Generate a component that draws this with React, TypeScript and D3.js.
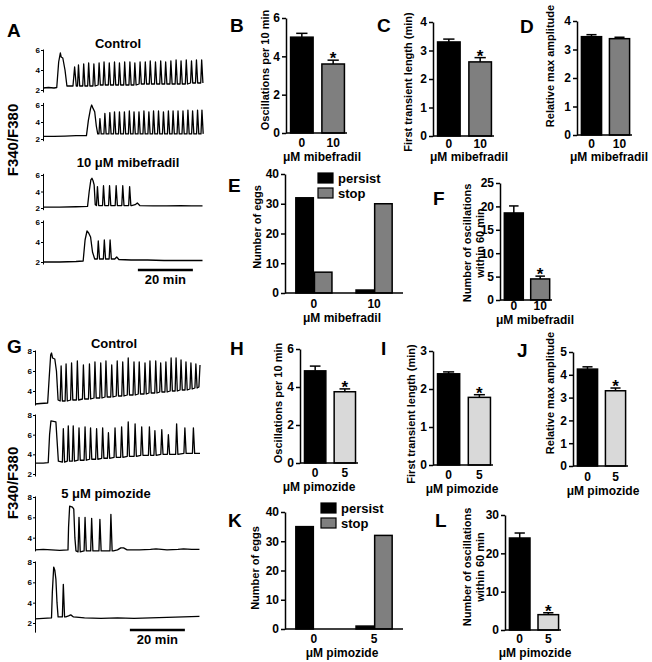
import React, { useEffect, useRef } from 'react';
import * as d3 from 'd3';

const FONT = '"Liberation Sans", Arial, Helvetica, sans-serif';
const DARK = '#000000';
const MIB_GRAY = '#7f7f7f';
const PIM_GRAY = '#d9d9d9';

type Pt = [number, number];

// ---------- Ca2+ traces: time (min) vs F340/F380 ----------
// lead/tail = hand-read key points, spikes = time, peak and baseline between spikes

// A, control egg 1
const a1Lead: Pt[] = [[0, 2.2], [2, 2.25], [4, 2.2], [5.0, 2.25], [5.7, 4.8], [6.3, 5.7], [6.6, 5.3], [7.2, 5.2], [8.0, 4.0], [8.7, 2.4], [10.9, 2.4], [11.5, 4.3], [12.1, 2.4]];
const a1SpikeT = [12.9, 14.8, 16.6, 18.5, 20.4, 22.2, 24.1, 26.0, 27.8, 29.7, 31.6, 33.4, 35.3, 37.2, 39.0, 40.9, 42.8, 44.6, 46.5, 48.4, 50.2, 52.1, 54.0, 55.8, 57.7];
const a1SpikePeak = [4.5, 4.6, 4.7, 4.6, 4.7, 4.8, 4.7, 4.8, 4.7, 4.8, 4.8, 4.7, 4.8, 4.8, 4.9, 4.8, 4.9, 4.8, 4.9, 5.0, 4.9, 5.0, 4.9, 5.0, 5.0];
const a1SpikeBase = [2.4, 2.4, 2.4, 2.4, 2.5, 2.5, 2.5, 2.5, 2.5, 2.5, 2.5, 2.5, 2.6, 2.6, 2.6, 2.6, 2.6, 2.6, 2.6, 2.6, 2.6, 2.6, 2.7, 2.7, 2.7];
const a1Tail: Pt[] = [];

// A, control egg 2
const a2Lead: Pt[] = [[0, 2.3], [4, 2.3], [8, 2.35], [12, 2.4], [15.8, 2.4], [16.5, 4.2], [17.3, 5.6], [17.7, 6.0], [18.2, 5.6], [18.8, 5.2], [19.4, 3.5], [19.9, 2.6]];
const a2SpikeT = [20.7, 22.5, 24.3, 26.0, 27.8, 29.6, 31.4, 33.1, 34.9, 36.7, 38.5, 40.2, 42.0, 43.8, 45.6, 47.3, 49.1, 50.9, 52.7, 54.4, 56.2, 57.8];
const a2SpikePeak = [4.4, 5.0, 5.1, 5.2, 5.2, 5.2, 5.3, 5.2, 5.2, 5.3, 5.2, 5.3, 5.3, 5.2, 5.3, 5.3, 5.3, 5.3, 5.4, 5.3, 5.4, 5.4];
const a2SpikeBase = [2.6, 2.6, 2.6, 2.6, 2.6, 2.6, 2.6, 2.6, 2.6, 2.6, 2.6, 2.6, 2.6, 2.6, 2.6, 2.6, 2.6, 2.6, 2.6, 2.6, 2.6, 2.6];
const a2Tail: Pt[] = [];

// A, mibefradil egg 1
const a3Lead: Pt[] = [[0, 2.1], [6, 2.1], [12, 2.15], [16.2, 2.2], [16.8, 4.0], [17.4, 5.4], [17.8, 5.6], [18.2, 5.3], [18.6, 4.8], [19.0, 2.4]];
const a3SpikeT = [19.8, 22.0, 24.2, 26.6, 29.0, 31.5];
const a3SpikePeak = [4.6, 4.7, 4.7, 4.7, 4.7, 4.6];
const a3SpikeBase = [2.3, 2.3, 2.3, 2.3, 2.3, 2.3];
const a3Tail: Pt[] = [[32.2, 2.3], [33.5, 2.4], [34.3, 2.6], [35.2, 2.3], [40, 2.25], [45, 2.25], [50, 2.3], [54, 2.25], [58, 2.25]];

// A, mibefradil egg 2
const a4Lead: Pt[] = [[0, 2.0], [6, 2.0], [12, 2.05], [14.6, 2.1], [15.3, 4.2], [16.0, 5.1], [16.6, 4.9], [17.3, 4.5], [18.0, 3.0], [18.8, 2.3]];
const a4SpikeT = [20.1, 22.3, 24.4];
const a4SpikePeak = [4.1, 4.2, 4.2];
const a4SpikeBase = [2.3, 2.3, 2.3];
const a4Tail: Pt[] = [[25.2, 2.3], [26.1, 2.3], [26.8, 2.5], [27.6, 2.25], [32, 2.2], [38, 2.2], [44, 2.15], [50, 2.15], [54, 2.15], [58, 2.15]];

// G, control egg 1
const g1Lead: Pt[] = [[0, 2.7], [2, 2.75], [4.6, 2.8], [5.2, 5.5], [5.7, 7.6], [6.0, 7.8], [6.4, 7.3], [7.2, 7.2], [7.8, 6.0], [8.4, 3.1]];
const g1SpikeT = [9.5, 11.3, 13.3, 15.4, 17.6, 19.8, 21.8, 23.9, 25.8, 27.9, 29.9, 31.9, 33.9, 36.0, 37.9, 40.0, 41.8, 43.9, 45.7, 47.6, 49.5, 51.3, 53.1, 54.9, 56.7, 58.5];
const g1SpikePeak = [6.5, 6.7, 6.8, 7.0, 6.6, 6.7, 6.9, 6.8, 7.0, 6.6, 7.0, 6.9, 7.3, 6.9, 6.9, 6.8, 7.0, 7.0, 6.8, 6.9, 7.3, 7.3, 7.1, 6.9, 6.8, 6.7];
const g1SpikeBase = [3.0, 3.0, 3.1, 3.1, 3.2, 3.2, 3.3, 3.3, 3.4, 3.4, 3.5, 3.5, 3.6, 3.6, 3.7, 3.7, 3.8, 3.8, 3.9, 3.9, 4.0, 4.0, 4.1, 4.1, 4.2, 4.3];
const g1Tail: Pt[] = [[59.6, 4.4], [60.0, 6.6]];

// G, control egg 2
const g2Lead: Pt[] = [[0, 3.1], [3, 3.1], [4.8, 3.15], [5.3, 6.0], [5.8, 7.4], [7.6, 7.3], [8.0, 5.5], [8.5, 3.3]];
const g2SpikeT = [10.3, 12.1, 13.9, 16.0, 18.2, 20.2, 22.4, 24.6, 26.7, 29.1, 31.5, 33.9, 36.4, 38.8, 41.6, 43.6, 46.1, 48.5, 51.5, 54.5, 57.6];
const g2SpikePeak = [6.6, 6.9, 6.9, 6.7, 6.8, 6.7, 6.6, 6.7, 6.2, 6.7, 6.8, 7.3, 7.1, 6.8, 6.8, 6.4, 6.5, 6.0, 7.1, 6.7, 6.7];
const g2SpikeBase = [3.2, 3.3, 3.3, 3.4, 3.4, 3.5, 3.5, 3.6, 3.6, 3.7, 3.7, 3.8, 3.8, 3.9, 3.9, 3.9, 4.0, 4.0, 4.0, 4.1, 4.1];
const g2Tail: Pt[] = [[59, 4.1], [60, 4.1]];

// G, pimozide egg 1
const g3Lead: Pt[] = [[0, 2.8], [3, 2.85], [6, 2.8], [9, 2.75], [12, 2.8], [12.2, 5.0], [12.6, 7.1], [13.6, 7.0], [14.1, 6.8], [14.5, 4.0], [14.9, 2.7]];
const g3SpikeT = [16.0, 18.2, 20.6, 23.6, 27.6];
const g3SpikePeak = [6.0, 6.0, 5.9, 5.8, 6.3];
const g3SpikeBase = [2.6, 2.7, 2.7, 2.7, 2.7];
const g3Tail: Pt[] = [[28.5, 2.7], [30, 2.8], [31.2, 3.0], [32.2, 3.0], [33.5, 2.8], [38, 2.8], [42, 2.85], [44, 2.9], [48, 2.8], [52, 2.85], [54, 2.9], [57, 2.85], [59.8, 2.85]];

// G, pimozide egg 2
const g4Lead: Pt[] = [[0, 2.4], [3, 2.45], [6, 2.5], [6.3, 5.0], [6.8, 7.5], [7.2, 7.2], [7.6, 6.3], [8.0, 4.0], [8.4, 2.6]];
const g4SpikeT = [10.3];
const g4SpikePeak = [5.8];
const g4SpikeBase = [2.6];
const g4Tail: Pt[] = [[11.2, 2.6], [12.2, 2.7], [13.0, 2.8], [14.0, 2.6], [18, 2.5], [24, 2.45], [30, 2.5], [36, 2.45], [42, 2.5], [48, 2.55], [54, 2.6], [59.8, 2.65]];

// ---------- bar data ----------
const mibDoses = ['0', '10'];
const pimDoses = ['0', '5'];
const outcomes = ['persist', 'stop'];

const mibOscPer10 = [5.0, 3.6];
const mibOscPer10Err = [0.2, 0.2];
const mibFirstLen = [3.3, 2.6];
const mibFirstLenErr = [0.1, 0.15];
const mibAmp = [3.45, 3.38];
const mibAmpErr = [0.07, 0.05];
const mibPersist = [32, 1];
const mibStop = [7, 30];
const mibOsc60 = [18.6, 4.5];
const mibOsc60Err = [1.5, 0.6];

const pimOscPer10 = [4.85, 3.75];
const pimOscPer10Err = [0.25, 0.15];
const pimFirstLen = [2.4, 1.78];
const pimFirstLenErr = [0.05, 0.07];
const pimAmp = [4.25, 3.3];
const pimAmpErr = [0.1, 0.12];
const pimPersist = [35, 1];
const pimStop = [0, 32];
const pimOsc60 = [24, 4];
const pimOsc60Err = [1.3, 0.5];

// ---------- helpers ----------
function tracePoints(lead: Pt[], st: number[], sp: number[], sb: number[], tail: Pt[]): Pt[] {
  const pts: Pt[] = [...lead];
  st.forEach((t, i) => {
    pts.push([t - 0.35, sb[i]], [t, sp[i]], [t + 0.45, sb[i]]);
  });
  return pts.concat(tail);
}

function styleAxis(g: any, fs: number) {
  g.select('.domain').attr('stroke', DARK).attr('stroke-width', 1.5);
  g.selectAll('.tick line').attr('stroke', DARK).attr('stroke-width', 1.5);
  g.selectAll('.tick text')
    .attr('fill', DARK)
    .style('font-family', FONT)
    .style('font-weight', 'bold')
    .style('font-size', fs + 'px');
}

function drawTrace(svg: any, x: any, pts: Pt[], y2: number, yTop: number, topVal: number, ticks: number[], lo: number, hi: number) {
  const y = d3.scaleLinear().domain([2, topVal]).range([y2, yTop]);
  const ya = d3.scaleLinear().domain([lo, hi]).range([y(lo), y(hi)]);
  const ax = d3.axisLeft(ya).tickValues(ticks).tickSize(2).tickSizeOuter(0).tickPadding(1).tickFormat(d3.format('d'));
  const g = svg.append('g').attr('transform', `translate(${x.range()[0]},0)`).call(ax);
  styleAxis(g, 8);
  g.select('.domain').attr('stroke-width', 1);
  g.selectAll('.tick line').attr('stroke-width', 1);
  const line = d3.line<Pt>().x((d) => x(d[0])).y((d) => y(d[1]));
  svg.append('path').attr('d', line(pts)).attr('fill', 'none').attr('stroke', DARK).attr('stroke-width', 1.3).attr('stroke-linejoin', 'round');
}

function text(svg: any, s: string, x: number, y: number, fs: number, anchor = 'middle') {
  return svg.append('text').attr('x', x).attr('y', y).attr('text-anchor', anchor)
    .style('font-family', FONT).style('font-weight', 'bold').style('font-size', fs + 'px').attr('fill', DARK).text(s);
}

function yTitle(svg: any, lines: string[], xs: number[], cy: number) {
  lines.forEach((s, i) => {
    svg.append('text').attr('transform', `translate(${xs[i] + 4},${cy}) rotate(-90)`).attr('text-anchor', 'middle')
      .style('font-family', FONT).style('font-weight', 'bold').style('font-size', '11px').attr('fill', DARK).text(s);
  });
}

type BarCfg = {
  x0: number; x1: number; y0: number; yTop: number; max: number; ticks: number[];
  cats: string[]; values: number[]; errs: number[]; fills: string[]; stars: boolean[];
  tickY: number; xTitle: string; xTitleX: number; xTitleY: number;
  yLines: string[]; yXs: number[]; yCy: number;
};

function drawBars(svg: any, c: BarCfg) {
  const y = d3.scaleLinear().domain([0, c.max]).range([c.y0, c.yTop]);
  const x = d3.scaleBand().domain(c.cats).range([c.x0 + 3, c.x1 - 1]).paddingInner(0.28).paddingOuter(0.05);
  const bw = x.bandwidth();
  c.cats.forEach((cat, i) => {
    const bx = x(cat)!;
    const top = y(c.values[i]);
    const et = y(c.values[i] + c.errs[i]);
    const cx = bx + bw / 2;
    svg.append('line').attr('x1', cx).attr('x2', cx).attr('y1', top).attr('y2', et).attr('stroke', DARK).attr('stroke-width', 1.5);
    svg.append('line').attr('x1', cx - bw * 0.25).attr('x2', cx + bw * 0.25).attr('y1', et).attr('y2', et).attr('stroke', DARK).attr('stroke-width', 1.5);
    svg.append('rect').attr('x', bx).attr('y', top).attr('width', bw).attr('height', c.y0 - top)
      .attr('fill', c.fills[i]).attr('stroke', DARK).attr('stroke-width', 1.5);
    if (c.stars[i]) text(svg, '*', cx, et + 4, 17);
    text(svg, cat, cx, c.tickY, 12);
  });
  const g = svg.append('g').attr('transform', `translate(${c.x0},0)`)
    .call(d3.axisLeft(y).tickValues(c.ticks).tickSize(4).tickSizeOuter(0).tickPadding(2).tickFormat(d3.format('d')));
  styleAxis(g, 12);
  svg.append('line').attr('x1', c.x0).attr('x2', c.x1).attr('y1', c.y0).attr('y2', c.y0).attr('stroke', DARK).attr('stroke-width', 1.5);
  text(svg, c.xTitle, c.xTitleX, c.xTitleY, 12);
  yTitle(svg, c.yLines, c.yXs, c.yCy);
}

type GroupCfg = {
  x0: number; x1: number; y0: number; yTop: number; persist: number[]; stop: number[]; cats: string[];
  tickY: number; xTitle: string; xTitleX: number; xTitleY: number; yX: number; yCy: number;
  legX: number; legY: number;
};

function drawGrouped(svg: any, c: GroupCfg) {
  const y = d3.scaleLinear().domain([0, 40]).range([c.y0, c.yTop]);
  const gx = d3.scaleBand().domain(c.cats).range([c.x0, c.x1]).paddingInner(0.4).paddingOuter(0.18);
  const sx = d3.scaleBand().domain(outcomes).range([0, gx.bandwidth()]).paddingInner(0.06);
  const fills = [DARK, MIB_GRAY];
  c.cats.forEach((cat, i) => {
    [c.persist[i], c.stop[i]].forEach((v, j) => {
      if (v <= 0) return;
      svg.append('rect').attr('x', gx(cat)! + sx(outcomes[j])!).attr('y', y(v)).attr('width', sx.bandwidth())
        .attr('height', c.y0 - y(v)).attr('fill', fills[j]).attr('stroke', DARK).attr('stroke-width', 1.5);
    });
    text(svg, cat, gx(cat)! + gx.bandwidth() / 2, c.tickY, 12);
  });
  const g = svg.append('g').attr('transform', `translate(${c.x0},0)`)
    .call(d3.axisLeft(y).tickValues([0, 10, 20, 30, 40]).tickSize(4).tickSizeOuter(0).tickPadding(2).tickFormat(d3.format('d')));
  styleAxis(g, 12);
  svg.append('line').attr('x1', c.x0).attr('x2', c.x1).attr('y1', c.y0).attr('y2', c.y0).attr('stroke', DARK).attr('stroke-width', 1.5);
  text(svg, c.xTitle, c.xTitleX, c.xTitleY, 12);
  yTitle(svg, ['Number of eggs'], [c.yX], c.yCy);
  outcomes.forEach((o, j) => {
    svg.append('rect').attr('x', c.legX).attr('y', c.legY + j * 15).attr('width', 15).attr('height', 10)
      .attr('fill', fills[j]).attr('stroke', DARK).attr('stroke-width', 1.2);
    text(svg, o, c.legX + 20, c.legY + 10 + j * 15, 13, 'start');
  });
}

export default function App() {
  const ref = useRef<SVGSVGElement>(null);
  useEffect(() => {
    const svg = d3.select(ref.current);
    svg.selectAll('*').remove();

    // panel letters
    const letters: [string, number, number][] = [
      ['A', 7, 37], ['B', 230, 32], ['C', 377, 32], ['D', 520, 33], ['E', 228, 192], ['F', 433, 205],
      ['G', 7, 353], ['H', 230, 355], ['I', 381, 355], ['J', 517, 357], ['K', 228, 527], ['L', 435, 527],
    ];
    letters.forEach(([s, x, y]) => text(svg, s, x, y, 19, 'start'));

    // ---- A traces ----
    const xa = d3.scaleLinear().domain([0, 58]).range([43, 43 + 58 * 2.75]);
    drawTrace(svg, xa, tracePoints(a1Lead, a1SpikeT, a1SpikePeak, a1SpikeBase, a1Tail), 90, 50, 6, [2, 4, 6], 1.8, 6.1);
    drawTrace(svg, xa, tracePoints(a2Lead, a2SpikeT, a2SpikePeak, a2SpikeBase, a2Tail), 139, 105, 6, [2, 4, 6], 1.8, 6.3);
    drawTrace(svg, xa, tracePoints(a3Lead, a3SpikeT, a3SpikePeak, a3SpikeBase, a3Tail), 208, 175, 6, [2, 4, 6], 1.8, 6.2);
    drawTrace(svg, xa, tracePoints(a4Lead, a4SpikeT, a4SpikePeak, a4SpikeBase, a4Tail), 262, 222, 6, [2, 4, 6], 1.8, 6.2);
    text(svg, 'Control', 118, 48, 13);
    text(svg, '10 μM mibefradil', 128, 167, 13);
    svg.append('line').attr('x1', xa(34.5)).attr('x2', xa(54.5)).attr('y1', 270).attr('y2', 270).attr('stroke', DARK).attr('stroke-width', 2.5);
    text(svg, '20 min', (xa(34.5) + xa(54.5)) / 2, 284, 13);
    svg.append('text').attr('transform', 'translate(18,140) rotate(-90)').attr('text-anchor', 'middle')
      .style('font-family', FONT).style('font-weight', 'bold').style('font-size', '15px').text('F340/F380');

    // ---- G traces ----
    const xg = d3.scaleLinear().domain([0, 60]).range([35, 35 + 60 * 2.75]);
    drawTrace(svg, xg, tracePoints(g1Lead, g1SpikeT, g1SpikePeak, g1SpikeBase, g1Tail), 411, 351, 8, [4, 6, 8], 2.6, 8.1);
    drawTrace(svg, xg, tracePoints(g2Lead, g2SpikeT, g2SpikePeak, g2SpikeBase, g2Tail), 474, 415, 8, [2, 4, 6, 8], 1.8, 8.1);
    drawTrace(svg, xg, tracePoints(g3Lead, g3SpikeT, g3SpikePeak, g3SpikeBase, g3Tail), 558, 497, 8, [4, 6, 8], 2.7, 8.1);
    drawTrace(svg, xg, tracePoints(g4Lead, g4SpikeT, g4SpikePeak, g4SpikeBase, g4Tail), 623, 562, 8, [2, 4, 6, 8], 1.1, 8.1);
    text(svg, 'Control', 114, 348, 13);
    text(svg, '5 μM pimozide', 106, 498, 13);
    svg.append('line').attr('x1', xg(34.5)).attr('x2', xg(54.5)).attr('y1', 630).attr('y2', 630).attr('stroke', DARK).attr('stroke-width', 2.5);
    text(svg, '20 min', (xg(34.5) + xg(54.5)) / 2, 644, 13);
    svg.append('text').attr('transform', 'translate(18,483) rotate(-90)').attr('text-anchor', 'middle')
      .style('font-family', FONT).style('font-weight', 'bold').style('font-size', '15px').text('F340/F380');

    // ---- mibefradil bars ----
    const mf = [DARK, MIB_GRAY];
    const pf = [DARK, PIM_GRAY];
    drawBars(svg, { x0: 286, x1: 347, y0: 133, yTop: 18, max: 6, ticks: [0, 2, 4, 6], cats: mibDoses, values: mibOscPer10, errs: mibOscPer10Err, fills: mf, stars: [false, true], tickY: 147, xTitle: 'μM mibefradil', xTitleX: 322, xTitleY: 161, yLines: ['Oscillations per 10 min'], yXs: [265], yCy: 70 });
    drawBars(svg, { x0: 433, x1: 494, y0: 136, yTop: 22, max: 4, ticks: [0, 1, 2, 3, 4], cats: mibDoses, values: mibFirstLen, errs: mibFirstLenErr, fills: mf, stars: [false, true], tickY: 148, xTitle: 'μM mibefradil', xTitleX: 469, xTitleY: 161, yLines: ['First transient length (min)'], yXs: [408], yCy: 82 });
    drawBars(svg, { x0: 577, x1: 632, y0: 135, yTop: 21, max: 4, ticks: [0, 1, 2, 3, 4], cats: mibDoses, values: mibAmp, errs: mibAmpErr, fills: mf, stars: [false, false], tickY: 148, xTitle: 'μM mibefradil', xTitleX: 609, xTitleY: 161, yLines: ['Relative max amplitude'], yXs: [550], yCy: 66 });
    drawGrouped(svg, { x0: 285, x1: 403, y0: 293, yTop: 174, persist: mibPersist, stop: mibStop, cats: mibDoses, tickY: 308, xTitle: 'μM mibefradil', xTitleX: 342, xTitleY: 322, yX: 257, yCy: 227, legX: 318, legY: 173 });
    drawBars(svg, { x0: 500, x1: 552, y0: 300, yTop: 183, max: 25, ticks: [0, 5, 10, 15, 20, 25], cats: mibDoses, values: mibOsc60, errs: mibOsc60Err, fills: mf, stars: [false, true], tickY: 310, xTitle: 'μM mibefradil', xTitleX: 535, xTitleY: 324, yLines: ['Number of oscillations', 'within 60 min'], yXs: [467, 480], yCy: 243 });

    // ---- pimozide bars ----
    drawBars(svg, { x0: 300, x1: 358, y0: 463, yTop: 349, max: 6, ticks: [0, 2, 4, 6], cats: pimDoses, values: pimOscPer10, errs: pimOscPer10Err, fills: pf, stars: [false, true], tickY: 477, xTitle: 'μM pimozide', xTitleX: 319, xTitleY: 491, yLines: ['Oscillations per 10 min'], yXs: [278], yCy: 403 });
    drawBars(svg, { x0: 433, x1: 493, y0: 465, yTop: 351, max: 3, ticks: [0, 1, 2, 3], cats: pimDoses, values: pimFirstLen, errs: pimFirstLenErr, fills: pf, stars: [false, true], tickY: 479, xTitle: 'μM pimozide', xTitleX: 462, xTitleY: 493, yLines: ['First transient length (min)'], yXs: [411], yCy: 414 });
    drawBars(svg, { x0: 573, x1: 628, y0: 466, yTop: 352, max: 5, ticks: [0, 1, 2, 3, 4, 5], cats: pimDoses, values: pimAmp, errs: pimAmpErr, fills: pf, stars: [false, true], tickY: 481, xTitle: 'μM pimozide', xTitleX: 603, xTitleY: 495, yLines: ['Relative max amplitude'], yXs: [550], yCy: 393 });
    drawGrouped(svg, { x0: 285, x1: 403, y0: 629, yTop: 512, persist: pimPersist, stop: pimStop, cats: pimDoses, tickY: 643, xTitle: 'μM pimozide', xTitleX: 342, xTitleY: 657, yX: 255, yCy: 568, legX: 321, legY: 503 });
    drawBars(svg, { x0: 505, x1: 561, y0: 630, yTop: 515, max: 30, ticks: [0, 10, 20, 30], cats: pimDoses, values: pimOsc60, errs: pimOsc60Err, fills: pf, stars: [false, true], tickY: 643, xTitle: 'μM pimozide', xTitleX: 535, xTitleY: 657, yLines: ['Number of oscillations', 'within 60 min'], yXs: [467, 480], yCy: 567 });
  }, []);

  return (
    <svg ref={ref} width={652} height={662} style={{ position: 'absolute', left: 0, top: 0, background: '#ffffff' }} />
  );
}
